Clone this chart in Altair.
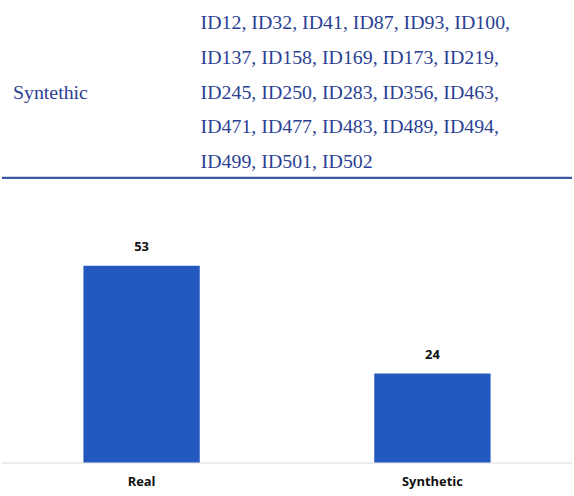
import altair as alt
import pandas as pd

# Table row: group label and the IDs listed for it, wrapped over several lines
group_label = ["Syntethic"]
id_lines = [
    "ID12, ID32, ID41, ID87, ID93, ID100,",
    "ID137, ID158, ID169, ID173, ID219,",
    "ID245, ID250, ID283, ID356, ID463,",
    "ID471, ID477, ID483, ID489, ID494,",
    "ID499, ID501, ID502",
]

# Bar chart: count per data source
sources = ["Real", "Synthetic"]
counts = [53, 24]

TEXT_BLUE = "#2b3f93"
BAR_BLUE = "#2359be"
SERIF = "Liberation Serif"
SANS = "Open Sans"

W = 574
NO_FRAME = alt.ViewBackground(stroke="transparent", strokeWidth=0)

# ---- table block ----
table_df = pd.DataFrame(
    {"col": ["ids"] * len(id_lines), "line": list(range(len(id_lines))), "text": id_lines}
)
label_df = pd.DataFrame({"col": ["group"], "line": [2], "text": group_label})
cells = pd.concat([label_df, table_df], ignore_index=True)

y_line = alt.Y(
    "line:Q",
    scale=alt.Scale(domain=[-0.633, 4.547], reverse=True, nice=False, zero=False),
    axis=None,
)
x_col = alt.X(
    "col:N",
    scale=alt.Scale(type="point", domain=["group", "ids"], range=[11, 200], padding=0),
    axis=None,
)

table_text = (
    alt.Chart(cells)
    .mark_text(align="left", baseline="middle", font=SERIF, fontSize=20, color=TEXT_BLUE)
    .encode(x=x_col, y=y_line, text="text:N")
)

table_rule = (
    alt.Chart(pd.DataFrame({"line": [4.47]}))
    .mark_rule(color="#3c57a3", strokeWidth=2.2)
    .encode(y=y_line, x=alt.value(0), x2=alt.value(W))
)

table = (table_text + table_rule).properties(width=W, height=180, view=NO_FRAME)

# ---- bar chart ----
bars_df = pd.DataFrame({"source": sources, "count": counts})

x_src = alt.X(
    "source:N",
    sort=sources,
    scale=alt.Scale(paddingInner=0.6, paddingOuter=0.28),
    axis=alt.Axis(
        title=None,
        labelAngle=0,
        labelFont=SANS,
        labelFontWeight="bold",
        labelFontSize=13,
        labelColor="#111111",
        labelPadding=13,
        ticks=False,
        domainColor="#d9d9d9",
        domainWidth=1.2,
    ),
)
y_cnt = alt.Y(
    "count:Q",
    scale=alt.Scale(domain=[0, 76.0], nice=False),
    axis=None,
)

bars = alt.Chart(bars_df).mark_bar(color=BAR_BLUE).encode(x=x_src, y=y_cnt)
values = (
    alt.Chart(bars_df)
    .mark_text(baseline="bottom", dy=-12, font=SANS, fontWeight="bold", fontSize=13, color="#111111")
    .encode(x=x_src, y=y_cnt, text="count:Q")
)

bar_chart = (bars + values).properties(width=W, height=284, view=NO_FRAME)

chart = (
    alt.vconcat(table, bar_chart, spacing=0)
    .properties(padding=0)
    .configure_view(stroke="transparent", strokeWidth=0)
    .configure(background="white")
)

chart.save("out.html", embed_options={"renderer": "svg", "actions": False})
